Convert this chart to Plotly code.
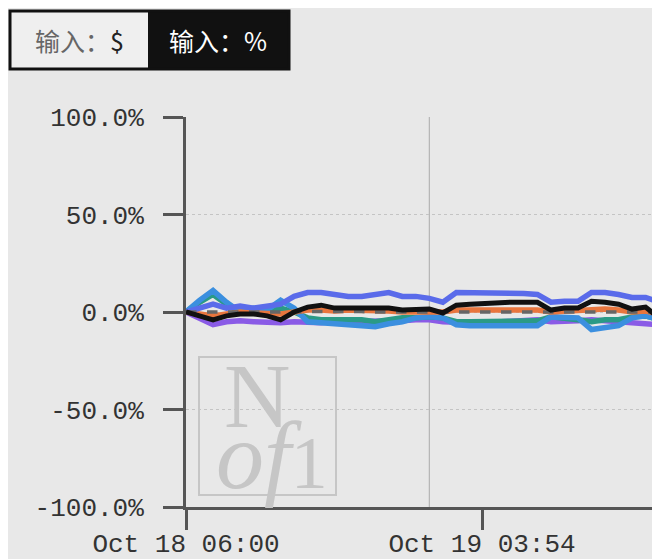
import pandas as pd
import plotly.graph_objects as go

# Dati: rendimento percentuale, un punto all'ora
times = pd.date_range("2024-10-18 06:00", periods=36, freq="h")

blue = [0, 2, 4, 2, 3, 2, 3, 4, 8, 10, 10, 9, 8, 8, 9, 10, 8, 8,
        7, 5, 10, 10, 9.5, 9.5, 9.5, 9.5, 9, 5, 5.5, 5.5, 10, 10, 9, 7.5, 7.5, 5]
black = [0, -2, -4, -2, -1, -1, -2, -4, 0, 2.5, 3.5, 2, 2, 2.5, 2.5, 2, 1, 1.5,
         1.5, -0.5, 3.5, 4, 4.5, 4.5, 5, 5, 5, 1, 2, 2, 5.5, 5, 4, 1.5, 2.5, -3]
light_blue = [0, 6, 11, 5, 0, 2, 1, 6, 2, -5, -5.5, -6, -6, -7, -7.5, -6, -5, -3,
              -2.5, -3, -6.5, -7, -7, -7, -7, -7, -7, -2.5, -3, -3, -9, -8, -7, -3, -2, -4]
teal = [0, 5, 9, 4, 0, 1, 0, 2, 0, -3, -4, -4, -4.5, -4, -5, -4, -3, -3,
        -2.5, -3, -5, -5, -5, -5, -5, -4.5, -4.5, -2.5, -3, -4, -5, -4, -4, -2.5, -2, -4]
purple = [0, -3.5, -6.5, -5, -4.5, -5, -5.5, -5.5, -5, -5.5, -5.5, -5, -5, -4.5, -4.5, -4.5, -4.5, -4,
          -4, -5, -5.5, -5.5, -5.5, -5, -5, -4.5, -4, -5, -5, -4.5, -4, -4.5, -5, -5, -5.5, -6.5]
orange = [0, -1, -2, -1, 0, -0.5, -1, -1, 0, 1, 1, 0.5, 1, 1, 0.5, 0.5, 0, 0,
          0, 0, 1, 1, 1, 1, 1, 1, 1, 0, 0.5, 0.5, 1.5, 1.5, 1, 0, 0.5, -1]
bench = [0, 0, -0.3, 0, 0, 0, -0.2, 0, 0, 0.2, 0.3, 0.2, 0.2, 0.2, 0, 0, 0, 0,
         0, 0, 0.3, 0.3, 0.3, 0.3, 0.3, 0.3, 0.3, 0, 0, 0, 0.3, 0.3, 0.2, 0, 0, -0.3]

y_ticks = [-100, -50, 0, 50, 100]
y_labels = ["-100.0%", "-50.0%", "0.0%", "50.0%", "100.0%"]
x_ticks = ["2024-10-18 06:00", "2024-10-19 03:54"]
x_labels = ["Oct 18 06:00", "Oct 19 03:54"]

BG = "#e8e8e8"
FONT = "Liberation Mono"

# la pagina ha 8px di margine: il grafico parte da (8, 8)
OFF = 8
W, H = 660 - OFF, 559 - OFF
# area del grafico in pixel di pagina
L, R, T, B = 186, 660, 117, 507


def px(x):
    return (x - L) / (R - L)


def py(y):
    return (B - y) / (B - T)


fig = go.Figure()
series = [
    (purple, "#8a5be6", 5.5, None),
    (teal, "#2a9a86", 5.5, None),
    (light_blue, "#3b8fdf", 5.5, None),
    (orange, "#e8763e", 5.5, None),
    (blue, "#5a6bea", 5.5, None),
    (bench, "#666666", 3.5, "dash"),
    (black, "#111111", 5, None),
]
for vals, col, w, dash in series:
    fig.add_trace(go.Scatter(x=times, y=vals, mode="lines",
                             line=dict(color=col, width=w, dash=dash),
                             showlegend=False))

# linea di mezzanotte
fig.add_shape(type="line", xref="x", yref="paper", x0="2024-10-19 00:00", x1="2024-10-19 00:00",
              y0=0, y1=1, line=dict(color="#aaaaaa", width=1), layer="below")

# pulsanti in alto
fig.add_shape(type="rect", xref="paper", yref="paper", x0=px(10), x1=px(148), y0=py(69), y1=py(11),
              fillcolor="#efefef", line=dict(width=0))
fig.add_shape(type="rect", xref="paper", yref="paper", x0=px(148), x1=px(289), y0=py(69), y1=py(11),
              fillcolor="#111111", line=dict(width=0))
fig.add_shape(type="rect", xref="paper", yref="paper", x0=px(10), x1=px(289), y0=py(69), y1=py(11),
              line=dict(color="#111111", width=3))
fig.add_annotation(text="<span style='color:#666'>输入：</span>$", xref="paper", yref="paper",
                   x=px(79), y=py(40), xanchor="center", yanchor="middle", showarrow=False,
                   font=dict(family="Noto Sans CJK SC", size=25, color="#222222"))
fig.add_annotation(text="输入：%", xref="paper", yref="paper",
                   x=px(218), y=py(40), xanchor="center", yanchor="middle", showarrow=False,
                   font=dict(family="Noto Sans CJK SC", size=25, color="#ffffff"))

# logo in filigrana
fig.add_shape(type="rect", xref="paper", yref="paper", x0=px(199), x1=px(336), y0=py(495), y1=py(357),
              line=dict(color="#c6c6c6", width=2))
fig.add_annotation(text="N", xref="paper", yref="paper", x=px(257), y=py(396),
                   xanchor="center", yanchor="middle", showarrow=False,
                   font=dict(family="Liberation Serif", size=92, color="#c6c6c6"))
fig.add_annotation(text="<i>of</i><span style='font-size:74px'>1</span>", xref="paper", yref="paper",
                   x=px(272), y=py(455),
                   xanchor="center", yanchor="middle", showarrow=False,
                   font=dict(family="Liberation Serif", size=96, color="#c6c6c6"))

fig.update_layout(
    width=W, height=H,
    margin=dict(l=L - OFF, r=0, t=T - OFF, b=H - (B - OFF)),
    paper_bgcolor=BG, plot_bgcolor=BG,
    font=dict(family=FONT, size=26, color="#333333"),
    xaxis=dict(range=["2024-10-18 06:00", "2024-10-19 17:04"],
               tickvals=x_ticks, ticktext=x_labels,
               showgrid=False, zeroline=False, automargin=False,
               showline=True, linecolor="#555555", linewidth=3,
               ticks="outside", ticklen=20, tickwidth=3, tickcolor="#555555",
               ticklabelstandoff=-9),
    yaxis=dict(range=[-100, 100], tickvals=y_ticks, ticktext=y_labels,
               showgrid=True, gridcolor="#c4c4c4", gridwidth=1, griddash="dot",
               zeroline=False, automargin=False,
               showline=True, linecolor="#555555", linewidth=3,
               ticks="outside", ticklen=20, tickwidth=3, tickcolor="#555555",
               ticklabelstandoff=14),
)

fig.write_html("out.html")
